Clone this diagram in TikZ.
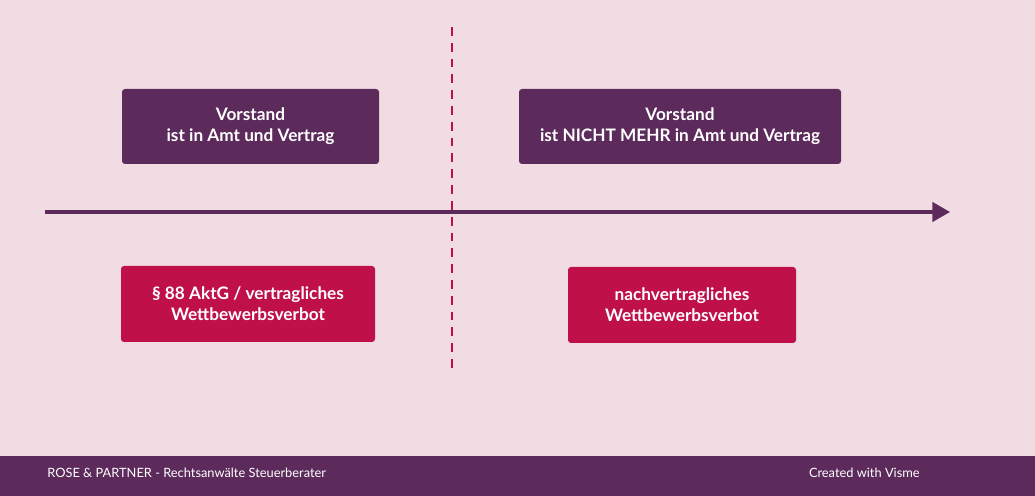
\documentclass[tikz,border=0pt]{standalone}
\usepackage{fontspec}
\setmainfont{Lato}
\usetikzlibrary{arrows.meta}
\definecolor{bgpink}{HTML}{F0DCE2}
\definecolor{plum}{HTML}{5C2A5B}
\definecolor{crimson}{HTML}{C0104A}
\begin{document}
\begin{tikzpicture}[x=0.02cm, y=-0.02cm,
    box/.style={rectangle, draw=none, rounded corners=0.6mm, text=white,
        font=\fontsize{9.8}{12}\selectfont\bfseries, align=center, inner sep=0pt},
    phase/.style={box, fill=plum},
    rule/.style={box, fill=crimson},
    footer/.style={text=white, font=\fontsize{7.3}{9}\selectfont, inner sep=0pt}
]
\fill[bgpink] (0,0) rectangle (1035,496);
\useasboundingbox (0,0) rectangle (1035,496);
\fill[plum] (0,456) rectangle (1035,496);
% boxes
\node (InOffice) [phase, minimum width=257*0.02cm, minimum height=75*0.02cm] at (250.5,126.5) {Vorstand\\ist in Amt und Vertrag};
\node (OutOffice) [phase, minimum width=322*0.02cm, minimum height=75*0.02cm] at (680,126.5) {Vorstand\\ist NICHT MEHR in Amt und Vertrag};
\node (Ban) [rule, minimum width=254*0.02cm, minimum height=76*0.02cm] at (248,304) {§ 88 AktG / vertragliches\\Wettbewerbsverbot};
\node (PostBan) [rule, minimum width=228*0.02cm, minimum height=76*0.02cm] at (682,305) {nachvertragliches\\Wettbewerbsverbot};
% timeline
\coordinate (TimeStart) at (45,212);
\coordinate (TimeEnd) at (950,212);
\draw[plum, line width=1.8pt, -{Triangle[length=10pt, width=11pt]}] (TimeStart) -- (TimeEnd);
\coordinate (CutTop) at (452,27);
\coordinate (CutBottom) at (452,372);
\draw[crimson, line width=0.8pt, dash pattern=on 5pt off 4pt] (CutTop) -- (CutBottom);
% footer
\node (Firm) [footer, anchor=west] at (47,473) {ROSE \& PARTNER - Rechtsanwälte Steuerberater};
\node (Credit) [footer, anchor=east] at (920,473) {Created with Visme};
\end{tikzpicture}
\end{document}
